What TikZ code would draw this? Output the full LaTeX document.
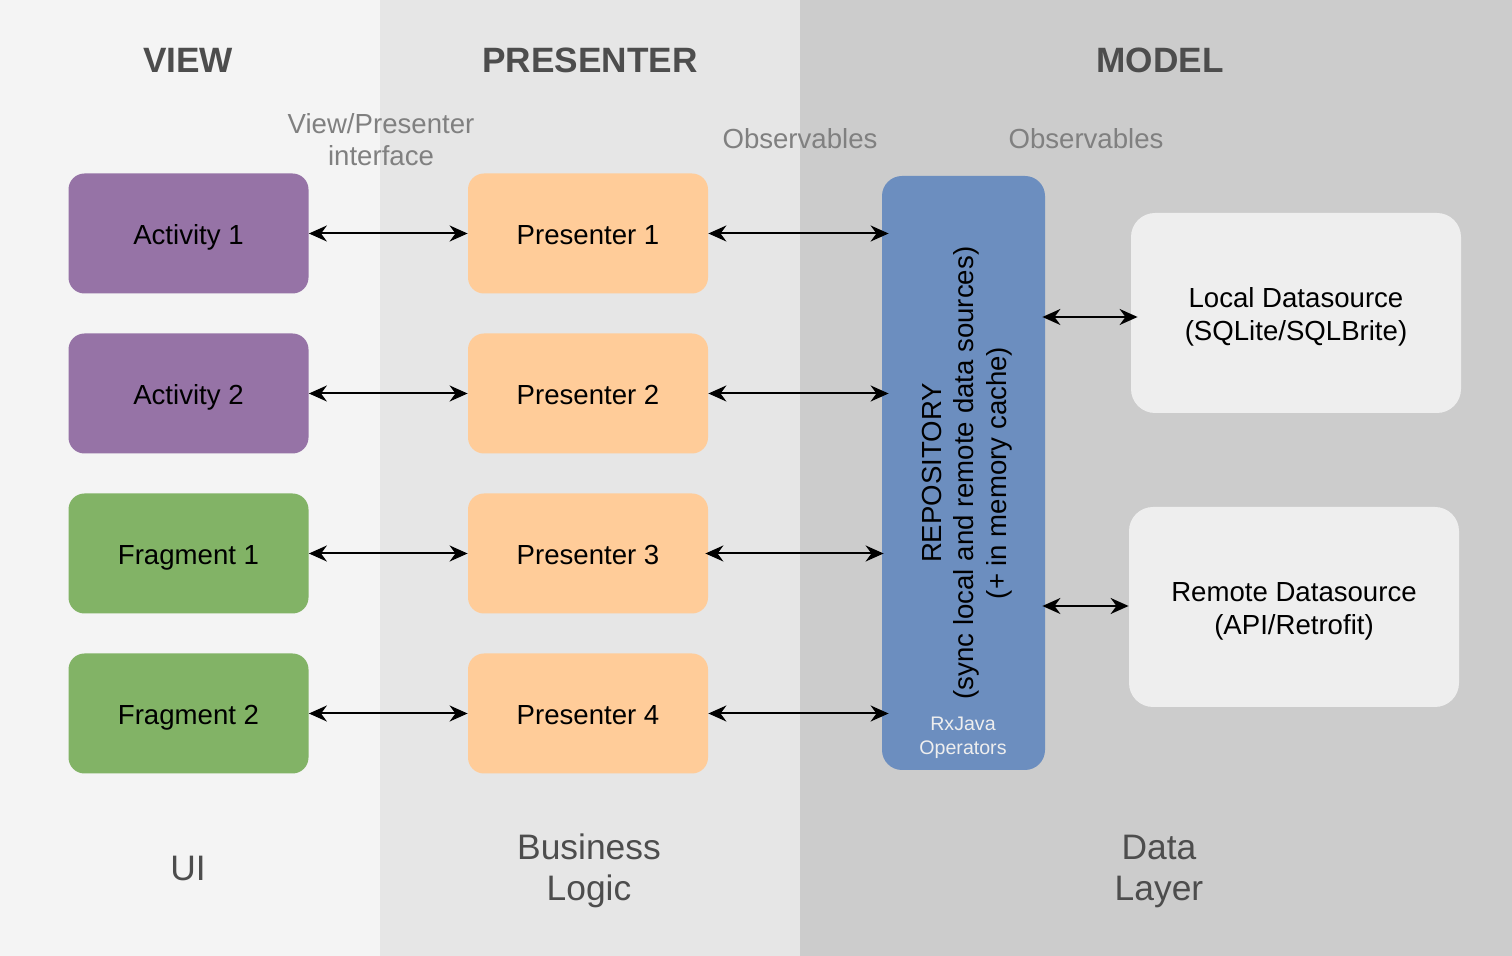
\documentclass[tikz,border=0pt]{standalone}
\usepackage{fontspec}
\setmainfont{Liberation Sans}
\usetikzlibrary{arrows.meta}
\definecolor{bgA}{HTML}{F4F4F4}
\definecolor{bgB}{HTML}{E6E6E6}
\definecolor{bgC}{HTML}{CCCCCC}
\definecolor{purp}{HTML}{9673A6}
\definecolor{grn}{HTML}{82B366}
\definecolor{orng}{HTML}{FFCC99}
\definecolor{blu}{HTML}{6C8EBF}
\definecolor{lite}{HTML}{EEEEEE}
\definecolor{hdr}{HTML}{4D4D4D}
\definecolor{lbl}{HTML}{808080}
\tikzset{
  box/.style={rectangle, rounded corners=8pt, minimum width=120pt, minimum height=60pt, inner sep=0pt, font=\fontsize{13.8}{16.5}\selectfont, text=black, align=center, text height=14pt, text depth=2.5pt},
  srcbox/.style={box, fill=lite, rounded corners=12pt, minimum width=165pt, minimum height=100pt, text height=31pt, text depth=3pt},
  header/.style={font=\fontsize{17.6}{21}\selectfont\bfseries, text=hdr},
  glabel/.style={font=\fontsize{13.8}{16}\selectfont, text=lbl, align=center},
  blabel/.style={font=\fontsize{17.7}{20.5}\selectfont, text=hdr, align=center},
  link/.style={line width=1pt, {Stealth[length=9pt,width=8pt]}-{Stealth[length=9pt,width=8pt]}}
}
\begin{document}
\begin{tikzpicture}[x=0.5pt,y=-0.5pt]
\fill[bgA] (0,0) rectangle (380,956);
\fill[bgB] (380,0) rectangle (800,956);
\fill[bgC] (800,0) rectangle (1512,956);
\useasboundingbox (0,0) rectangle (1512,956);

\node[header] (hview) at (188,60) {VIEW};
\node[header] (hpres) at (590,60) {PRESENTER};
\node[header] (hmodel) at (1160,60) {MODEL};

\node[glabel] (vpi) at (381,140) {View/Presenter\\interface};
\node[glabel] (obs1) at (800,139) {Observables};
\node[glabel] (obs2) at (1086,139) {Observables};

\node[box, fill=purp] (a1) at (188.5,233.5) {Activity 1};
\node[box, fill=purp] (a2) at (188.5,393.5) {Activity 2};
\node[box, fill=grn] (f1) at (188.5,553.5) {Fragment 1};
\node[box, fill=grn] (f2) at (188.5,713.5) {Fragment 2};

\node[box, fill=orng] (p1) at (588,233.5) {Presenter 1};
\node[box, fill=orng] (p2) at (588,393.5) {Presenter 2};
\node[box, fill=orng] (p3) at (588,553.5) {Presenter 3};
\node[box, fill=orng] (p4) at (588,713.5) {Presenter 4};

\node[box, fill=blu, rounded corners=10pt, minimum width=81.5pt, minimum height=297pt, text height=, text depth=] (repo) at (963.5,473) {};
\node[rotate=90, font=\fontsize{13.8}{16.3}\selectfont, align=center] (repotext) at (967,473) {REPOSITORY\\(sync local and remote data sources)\\(+ in memory cache)};
\node[font=\fontsize{9.8}{12.2}\selectfont, text=lite, align=center] (rx) at (963,737.5) {RxJava\\Operators};

\node[srcbox] (local) at (1296,313) {Local Datasource\\(SQLite/SQLBrite)};
\node[srcbox] (remote) at (1294,607) {Remote Datasource\\(API/Retrofit)};

\draw[link] (a1) -- (p1);
\draw[link] (a2) -- (p2);
\draw[link] (f1) -- (p3);
\draw[link] (f2) -- (p4);

\draw[link, shorten >=-3.5pt] (p1.east) -- (p1.east -| repo.west);
\draw[link, shorten >=-3.5pt] (p2.east) -- (p2.east -| repo.west);
\draw[link, shorten >=-1pt, shorten <=-1.5pt] (p3.east) -- (p3.east -| repo.west);
\draw[link, shorten >=-3.5pt] (p4.east) -- (p4.east -| repo.west);

\draw[link, shorten <=-1.5pt, shorten >=-3.5pt] (repo.east |- 0,317) -- (local.west |- 0,317);
\draw[link, shorten <=-1.5pt] (repo.east |- 0,606) -- (remote.west |- 0,606);

\node[blabel] (ui) at (188,868) {UI};
\node[blabel] (bl) at (589,871) {Business\\Logic};
\node[blabel] (dl) at (1159,871) {Data\\Layer};
\end{tikzpicture}
\end{document}
